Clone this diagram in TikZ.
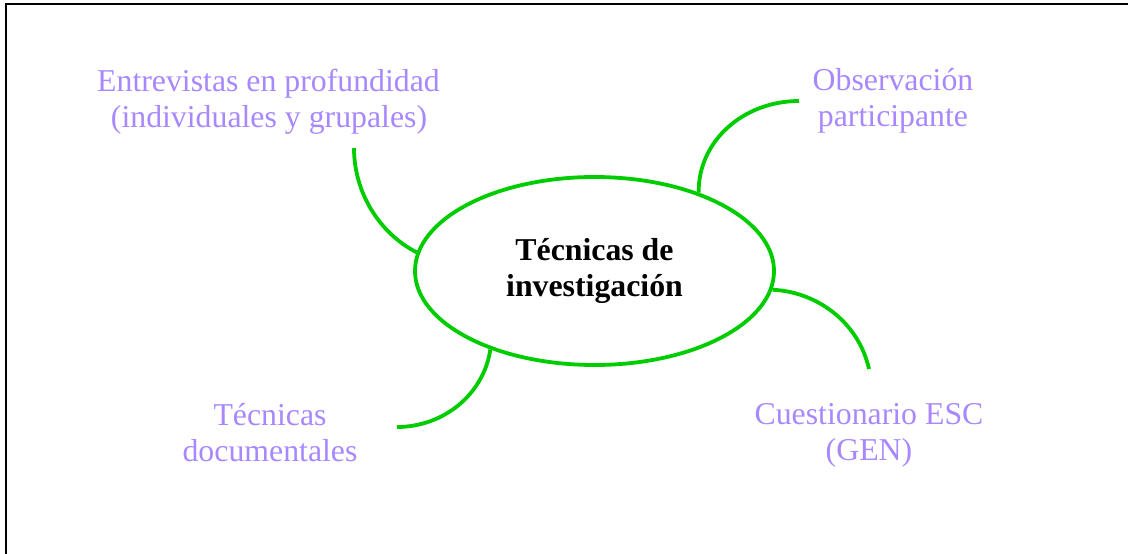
\documentclass[tikz,border=0pt]{standalone}
\usepackage{fontspec}
\setmainfont{Liberation Serif}
\usetikzlibrary{shapes.geometric}
\definecolor{lav}{RGB}{168,136,255}
\definecolor{grn}{RGB}{0,204,0}
\tikzset{
  lbl/.style={text=lav, font=\fontsize{31.8}{36}\selectfont, inner sep=0pt},
  conn/.style={draw=grn, line width=3.8pt},
  hub/.style={ellipse, draw=grn, line width=3.8pt, minimum width=359pt, minimum height=188pt, inner sep=0pt,
    align=center, font=\fontsize{31.8}{36}\selectfont\bfseries}
}
\begin{document}
\begin{tikzpicture}[x=1pt,y=-1pt]
\useasboundingbox (0,0) rectangle (1128,554);
% frame
\coordinate (fa) at (6,560);
\coordinate (fb) at (6,4);
\coordinate (fc) at (1140,4);
\draw[line width=2.4pt] (fa) -- (fb) -- (fc);
% hub
\node[hub] (c) at (594.5,271) {T\'ecnicas de\\investigaci\'on};
% labels
\node[lbl, anchor=base] (ent1) at (268.5,91) {Entrevistas en profundidad};
\node[lbl, anchor=base] (ent2) at (269,127) {(individuales y grupales)};
\node[lbl, anchor=base] (obs1) at (893,90) {Observaci\'on};
\node[lbl, anchor=base] (obs2) at (893,126) {participante};
\node[lbl, anchor=base] (tec1) at (270,425) {T\'ecnicas};
\node[lbl, anchor=base] (tec2) at (270,461) {documentales};
\node[lbl, anchor=base] (cue1) at (869,424) {Cuestionario ESC};
\node[lbl, anchor=base] (cue2) at (869,460) {(GEN)};
% free ends
\coordinate (e1) at (354,148);
\coordinate (e2) at (799,101);
\coordinate (e3) at (869,369);
\coordinate (e4) at (397,427);
% connectors
\draw[conn] (e1) .. controls (354,192) and (378.7,232.8) .. (c.174);
\draw[conn] (c.37.7) .. controls (698,141.3) and (743.2,101) .. (e2);
\draw[conn] (c.-6.7) .. controls (819,292) and (859.2,324.1) .. (e3);
\draw[conn] (c.217.2) .. controls (483.9,393.9) and (443.8,427) .. (e4);
\end{tikzpicture}
\end{document}
